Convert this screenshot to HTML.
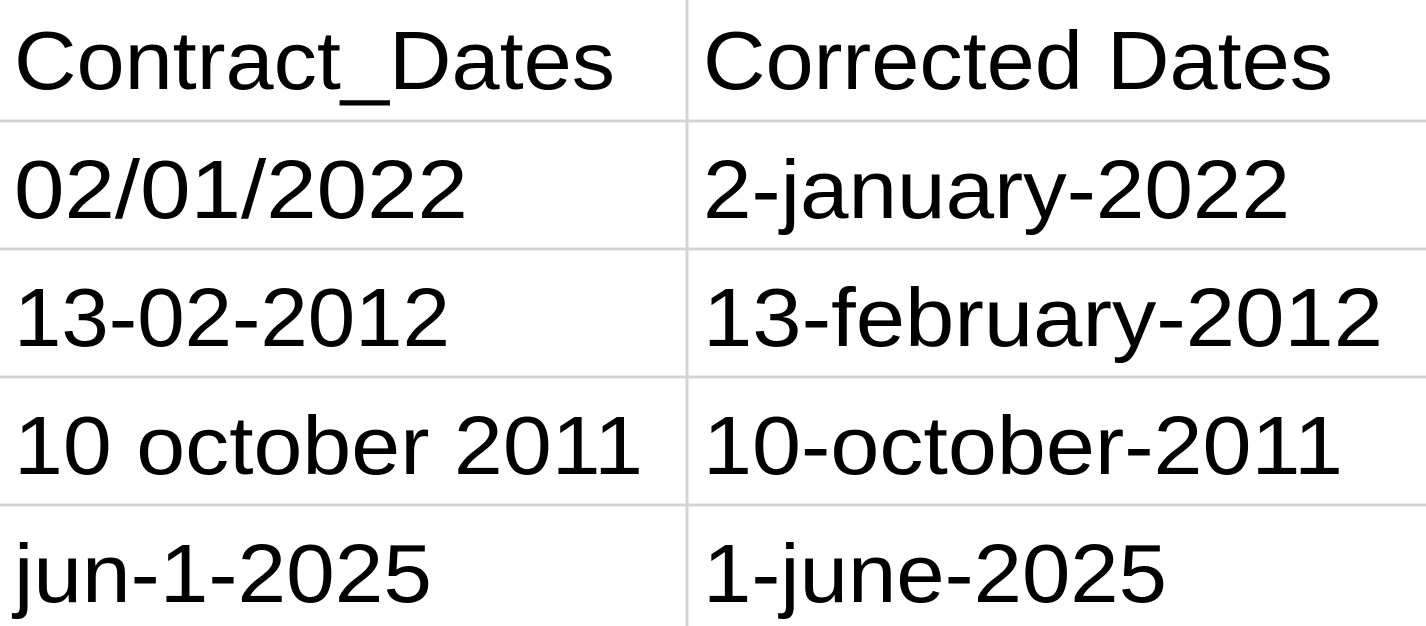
<!DOCTYPE html>
<html><head><meta charset="utf-8">
<style>
html,body{margin:0;padding:0;background:#fff;width:1426px;height:626px;overflow:hidden}
svg{display:block}
text{font-family:"Liberation Sans",sans-serif;font-size:83px;fill:#000}
</style></head>
<body>
<svg width="1426" height="626" viewBox="0 0 1426 626">
  <g stroke="#d4d4d4" stroke-width="3">
    <line x1="687" y1="0" x2="687" y2="626"/>
    <line x1="0" y1="121" x2="1426" y2="121"/>
    <line x1="0" y1="249" x2="1426" y2="249"/>
    <line x1="0" y1="377" x2="1426" y2="377"/>
    <line x1="0" y1="505" x2="1426" y2="505"/>
  </g>
  <text x="14" y="89" textLength="601" lengthAdjust="spacingAndGlyphs">Contract_Dates</text>
  <text x="703" y="89" textLength="630" lengthAdjust="spacingAndGlyphs">Corrected Dates</text>

  <text x="14" y="218" textLength="454" lengthAdjust="spacingAndGlyphs">02/01/2022</text>
  <text x="703" y="218" textLength="587" lengthAdjust="spacingAndGlyphs">2-january-2022</text>

  <text x="14" y="346" textLength="436" lengthAdjust="spacingAndGlyphs">13-02-2012</text>
  <text x="703" y="346" textLength="680" lengthAdjust="spacingAndGlyphs">13-february-2012</text>

  <text x="14" y="474" textLength="629" lengthAdjust="spacingAndGlyphs">10 october 2011</text>
  <text x="703" y="474" textLength="640" lengthAdjust="spacingAndGlyphs">10-october-2011</text>

  <text x="14" y="602" textLength="418" lengthAdjust="spacingAndGlyphs">jun-1-2025</text>
  <text x="703" y="602" textLength="464" lengthAdjust="spacingAndGlyphs">1-june-2025</text>
</svg>
</body></html>
